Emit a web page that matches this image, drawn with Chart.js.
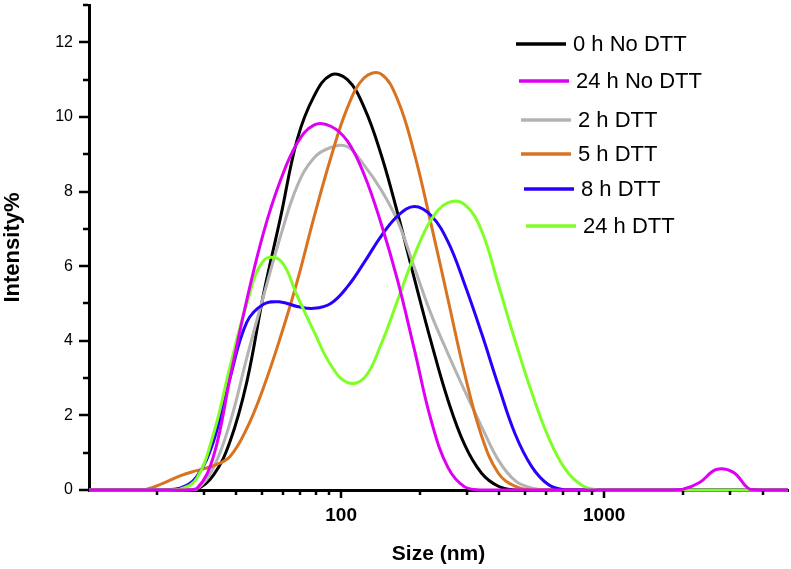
<!DOCTYPE html>
<html>
<head>
<meta charset="utf-8">
<script src="https://cdn.jsdelivr.net/npm/chart.js@4.4.0/dist/chart.umd.min.js"></script>
<style>
  html, body { margin: 0; padding: 0; background: #fff; }
  #wrap { width: 791px; height: 569px; }
</style>
</head>
<body>
<div id="wrap"><canvas id="dlsChart" width="791" height="569"></canvas></div>
<script>
// size bins (nm)
const sizes = [10.1, 11.7, 13.5, 15.7, 18.2, 21.0, 24.4, 28.2, 32.7, 37.8, 43.8, 50.7, 58.8, 68.1, 78.8, 91.3,
    105.7, 122.4, 141.8, 164.2, 190.1, 220.2, 255.0, 295.3, 342.0, 396.1, 458.7, 531.2, 615.1, 712.4, 825.0, 955.4,
    1106, 1281, 1484, 1718, 1990, 2305, 2669, 3091, 3580, 4145, 4801, 5560];

// intensity % per bin
const h0NoDtt = [0, 0, 0, 0, 0, 0, 0, 0.02, 0.4, 1.3, 2.9, 5.25, 7.3, 9.4, 10.55, 11.12,
    11.0, 10.25, 9.0, 7.4, 5.65, 3.95, 2.4, 1.2, 0.45, 0.1, 0, 0, 0, 0, 0, 0,
    0, 0, 0, 0, 0, 0, 0, 0, 0, 0, 0, 0];
const h24NoDtt = [0, 0, 0, 0, 0, 0, 0, 0.03, 0.9, 3.0, 5.1, 6.9, 8.3, 9.3, 9.78, 9.75,
    9.35, 8.45, 7.15, 5.6, 3.75, 1.85, 0.6, 0.08, 0, 0, 0, 0, 0, 0, 0, 0,
    0, 0, 0, 0, 0.02, 0.2, 0.55, 0.48, 0.02, 0, 0, 0];
const h2Dtt = [0, 0, 0, 0, 0, 0, 0, 0.02, 0.6, 1.8, 3.55, 5.2, 6.8, 8.15, 8.9, 9.18,
    9.2, 8.7, 8.05, 7.2, 5.95, 4.7, 3.65, 2.65, 1.7, 0.8, 0.25, 0.05, 0, 0, 0, 0,
    0, 0, 0, 0, 0, 0, 0, 0, 0, 0, 0, 0];
const h5Dtt = [0, 0, 0, 0, 0.02, 0.18, 0.38, 0.52, 0.65, 0.9, 1.65, 2.75, 4.1, 5.6, 7.3, 8.9,
    10.25, 11.05, 11.15, 10.45, 9.0, 7.1, 5.1, 3.1, 1.45, 0.45, 0.1, 0, 0, 0, 0, 0,
    0, 0, 0, 0, 0, 0, 0, 0, 0, 0, 0, 0];
const h8Dtt = [0, 0, 0, 0, 0, 0, 0.05, 0.35, 1.3, 3.0, 4.5, 4.98, 5.04, 4.92, 4.87, 5.0,
    5.45, 6.1, 6.8, 7.35, 7.6, 7.35, 6.65, 5.5, 4.2, 2.8, 1.5, 0.62, 0.14, 0, 0, 0,
    0, 0, 0, 0, 0, 0, 0, 0, 0, 0, 0, 0];
const h24Dtt = [0, 0, 0, 0, 0, 0, 0.02, 0.3, 1.5, 3.3, 5.0, 6.15, 6.15, 5.2, 4.25, 3.35,
    2.88, 3.0, 3.9, 5.1, 6.3, 7.25, 7.7, 7.65, 6.95, 5.5, 4.0, 2.6, 1.4, 0.55, 0.12, 0,
    0, 0, 0, 0, 0, 0, 0, 0, 0, 0, 0, 0];

const seriesLabels = ["0 h No DTT", "24 h No DTT", "2 h DTT", "5 h DTT", "8 h DTT", "24 h DTT"];
const seriesValues = [h0NoDtt, h24NoDtt, h2Dtt, h5Dtt, h8Dtt, h24Dtt];
const seriesColors = ["#000000", "#dd00f2", "#b3b3b3", "#d9731f", "#2800ff", "#7fff26"];
const drawOrder = [5, 0, 4, 3, 2, 1]; // magenta on top, then green

// axis ticks
const xTicks = [20, 30, 40, 50, 60, 70, 80, 90, 100, 200, 300, 400, 500, 600, 700, 800, 900, 1000, 2000, 3000, 4000];
const xLabelled = [100, 1000];
const yTicks = [0, 1, 2, 3, 4, 5, 6, 7, 8, 9, 10, 11, 12, 13];

const FONT = '"Liberation Sans", Arial, sans-serif';

// tick marks: long for labelled values, short for the rest
const tickMarks = {
    id: "tickMarks",
    afterDraw(chart) {
        const { ctx, chartArea } = chart;
        const xs = chart.scales.x;
        const ys = chart.scales.y;
        ctx.save();
        ctx.strokeStyle = "#000";
        ctx.lineWidth = 2.5;
        ctx.beginPath();
        xTicks.forEach(v => {
            const px = Math.round(xs.getPixelForValue(v));
            const len = xLabelled.includes(v) ? 7 : 4;
            ctx.moveTo(px, chartArea.bottom + 1);
            ctx.lineTo(px, chartArea.bottom + 1 + len);
        });
        yTicks.forEach(v => {
            const py = Math.round(ys.getPixelForValue(v));
            const len = v % 2 === 0 ? 9 : 5;
            ctx.moveTo(chartArea.left - 1, py);
            ctx.lineTo(chartArea.left - 1 - len, py);
        });
        ctx.stroke();
        ctx.restore();
    }
};

// legend with the uneven spacing of the original
const legendRows = [
    { x: 516, y: 44 }, { x: 519, y: 81 }, { x: 521, y: 120 },
    { x: 521, y: 154 }, { x: 524, y: 189 }, { x: 526, y: 226 }
];
const customLegend = {
    id: "customLegend",
    afterDraw(chart) {
        const ctx = chart.ctx;
        ctx.save();
        ctx.font = "22px " + FONT;
        ctx.textBaseline = "middle";
        ctx.textAlign = "left";
        legendRows.forEach((row, i) => {
            ctx.strokeStyle = seriesColors[i];
            ctx.lineWidth = 3.5;
            ctx.beginPath();
            ctx.moveTo(row.x, row.y);
            ctx.lineTo(row.x + 50, row.y);
            ctx.stroke();
            ctx.fillStyle = "#000";
            ctx.fillText(seriesLabels[i], row.x + 57, row.y + 1);
        });
        ctx.restore();
    }
};

const datasets = seriesLabels.map((label, i) => ({
    label,
    data: sizes.map((s, j) => ({ x: s, y: seriesValues[i][j] })),
    borderColor: seriesColors[i],
    borderWidth: 3,
    pointRadius: 0,
    tension: 0.4,
    fill: false,
    order: drawOrder[i],
    clip: { left: 0, right: 0, top: 5, bottom: 5 }
}));

new Chart(document.getElementById("dlsChart"), {
    type: "line",
    data: { datasets },
    options: {
        responsive: false,
        animation: false,
        layout: { padding: { top: 5, right: 3, left: 0, bottom: 0 } },
        plugins: {
            legend: { display: false },
            tooltip: { enabled: false }
        },
        scales: {
            x: {
                type: "logarithmic",
                min: 11,
                max: 5000,
                afterBuildTicks: scale => { scale.ticks = xTicks.map(v => ({ value: v })); },
                afterFit: scale => {
                    scale.height = 79;
                    scale.paddingLeft = 0;
                    scale.paddingRight = 0;
                },
                grid: { display: false, drawTicks: false },
                border: { display: true, color: "#000", width: 3 },
                ticks: {
                    autoSkip: false,
                    maxRotation: 0,
                    padding: 14,
                    color: "#000",
                    font: { family: FONT, size: 19, weight: "bold" },
                    callback: v => (xLabelled.includes(v) ? String(v) : "")
                },
                title: {
                    display: true,
                    text: "Size (nm)",
                    color: "#000",
                    font: { family: FONT, size: 21, weight: "bold" },
                    padding: { top: 0, bottom: 2 }
                }
            },
            y: {
                min: 0,
                max: 13,
                afterBuildTicks: scale => { scale.ticks = yTicks.map(v => ({ value: v })); },
                afterFit: scale => {
                    scale.width = 89;
                    scale.paddingTop = 0;
                    scale.paddingBottom = 0;
                },
                grid: { display: false, drawTicks: false },
                border: { display: true, color: "#000", width: 3 },
                ticks: {
                    autoSkip: false,
                    padding: 16,
                    color: "#000",
                    font: { family: FONT, size: 16 },
                    callback: v => (v % 2 === 0 ? String(v) : "")
                },
                title: {
                    display: true,
                    text: "Intensity%",
                    color: "#000",
                    font: { family: FONT, size: 22, weight: "bold" },
                    padding: { top: 0, bottom: 0 }
                }
            }
        }
    },
    plugins: [tickMarks, customLegend]
});
</script>
</body>
</html>
